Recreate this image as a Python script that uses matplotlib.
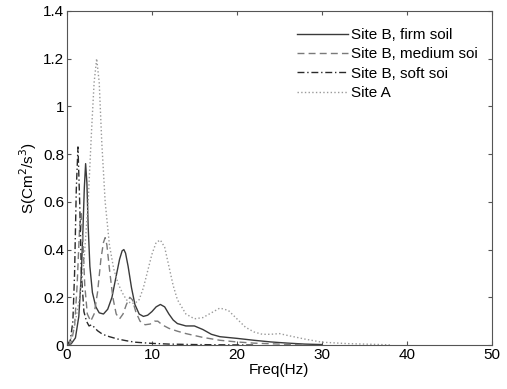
import matplotlib
matplotlib.use("Agg")
import matplotlib.pyplot as plt

plt.rcParams['font.family'] = ['Liberation Sans', 'DejaVu Sans']

firm_f = [0, 0.5, 1.0, 1.4, 1.7, 1.9, 2.05, 2.2, 2.35, 2.5, 2.7, 3.0, 3.4, 3.8, 4.3, 4.8, 5.3, 5.8, 6.2,
          6.5, 6.7, 6.9, 7.2, 7.6, 8.0, 8.5, 9.0, 9.5, 10.0, 10.5, 11.0, 11.5, 12.0, 12.5, 13.0, 14.0,
          15.0, 16.0, 17.0, 18.0, 20.0, 22.0, 24.0, 26.0, 28.0, 30.0]
firm_s = [0, 0.005, 0.03, 0.12, 0.3, 0.5, 0.66, 0.76, 0.68, 0.5, 0.33, 0.22, 0.16, 0.135, 0.13, 0.15,
          0.2, 0.29, 0.36, 0.395, 0.40, 0.385, 0.33, 0.24, 0.17, 0.13, 0.12, 0.125, 0.14, 0.16, 0.17,
          0.16, 0.13, 0.105, 0.09, 0.08, 0.08, 0.065, 0.045, 0.035, 0.028, 0.02, 0.013, 0.008, 0.004, 0.002]

med_f = [0, 0.5, 0.9, 1.2, 1.5, 1.7, 1.9, 2.1, 2.4, 2.8, 3.2, 3.6, 4.0, 4.3, 4.5, 4.7, 5.0, 5.4, 5.8,
         6.2, 6.6, 7.0, 7.4, 7.7, 8.1, 8.6, 9.2, 9.8, 10.3, 10.7, 11.2, 12.0, 13.0, 14.0, 15.0, 16.0,
         18.0, 20.0, 22.0, 25.0, 28.0]
med_s = [0, 0.01, 0.08, 0.25, 0.5, 0.55, 0.42, 0.25, 0.13, 0.1, 0.13, 0.22, 0.36, 0.43, 0.45, 0.42,
         0.32, 0.2, 0.13, 0.11, 0.13, 0.17, 0.2, 0.19, 0.14, 0.1, 0.085, 0.088, 0.1, 0.1, 0.085, 0.07,
         0.058, 0.048, 0.04, 0.032, 0.02, 0.013, 0.008, 0.004, 0.001]

soft_f = [0, 0.4, 0.7, 0.9, 1.1, 1.3, 1.5, 1.7, 2.0, 2.3, 2.6, 2.9, 3.2, 3.6, 4.2, 5, 6, 7, 8, 10, 12,
          15, 18, 22]
soft_s = [0, 0.02, 0.1, 0.3, 0.65, 0.83, 0.6, 0.3, 0.14, 0.1, 0.08, 0.085, 0.075, 0.06, 0.045, 0.035,
          0.025, 0.018, 0.012, 0.007, 0.004, 0.002, 0.001, 0]

siteA_f = [0, 0.5, 1.0, 1.5, 2.0, 2.5, 2.9, 3.2, 3.5, 3.8, 4.1, 4.5, 5.0, 5.5, 6.0, 6.5, 7.0, 7.5, 8.0,
           8.5, 9.0, 9.5, 10.0, 10.5, 11.0, 11.5, 12.0, 12.5, 13.0, 14.0, 15.0, 16.0, 17.0, 18.0, 19.0,
           20.0, 21.0, 22.0, 23.0, 24.0, 25.0, 26.0, 28.0, 30.0, 33.0, 36.0, 38.0]
siteA_s = [0, 0.03, 0.1, 0.2, 0.35, 0.6, 0.9, 1.1, 1.2, 1.1, 0.85, 0.6, 0.42, 0.32, 0.26, 0.22, 0.19,
           0.175, 0.175, 0.19, 0.24, 0.31, 0.38, 0.43, 0.44, 0.41, 0.33, 0.25, 0.19, 0.13, 0.11, 0.115,
           0.135, 0.155, 0.145, 0.11, 0.075, 0.055, 0.045, 0.045, 0.048, 0.04, 0.025, 0.012, 0.006,
           0.003, 0.001]

labels = ["Site B, firm soil", "Site B, medium soi", "Site B, soft soi", "Site A"]
x_ticks = [0, 10, 20, 30, 40, 50]
y_ticks = [0, 0.2, 0.4, 0.6, 0.8, 1, 1.2, 1.4]
y_ticklabels = ["0", "0.2", "0.4", "0.6", "0.8", "1", "1.2", "1.4"]

FS = 11

fig = plt.figure(figsize=(5.07, 3.89), dpi=100)
ax = fig.add_axes([0.132, 0.113, 0.838, 0.859])

ax.plot(firm_f, firm_s, '-', color='#3a3a3a', lw=1.0, label=labels[0])
ax.plot(med_f, med_s, '--', color='#7a7a7a', lw=1.0, dashes=(5, 3), label=labels[1])
ax.plot(soft_f, soft_s, '-.', color='#2a2a2a', lw=1.0, dashes=(5, 2, 1, 2), label=labels[2])
ax.plot(siteA_f, siteA_s, ':', color='#9a9a9a', lw=1.0, label=labels[3])

ax.set_xlim(0, 50)
ax.set_ylim(0, 1.4)
ax.set_xticks(x_ticks)
ax.set_yticks(y_ticks)
ax.set_yticklabels(y_ticklabels)
ax.tick_params(direction='in', top=True, right=True, labelsize=FS, length=3, pad=2, color='#555555')
for s in ax.spines.values():
    s.set_color('#555555')
    s.set_linewidth(0.8)

ax.set_xlabel("Freq(Hz)", fontsize=FS, labelpad=1)
ax.set_ylabel("S(Cm$^2$/s$^3$)", fontsize=FS, labelpad=3)

ax.legend(loc='upper right', frameon=False, fontsize=FS, handlelength=3.3, handletextpad=0.2,
          labelspacing=0.35, borderaxespad=0.4, bbox_to_anchor=(0.995, 0.985))

fig.savefig("out.png", dpi=100)
